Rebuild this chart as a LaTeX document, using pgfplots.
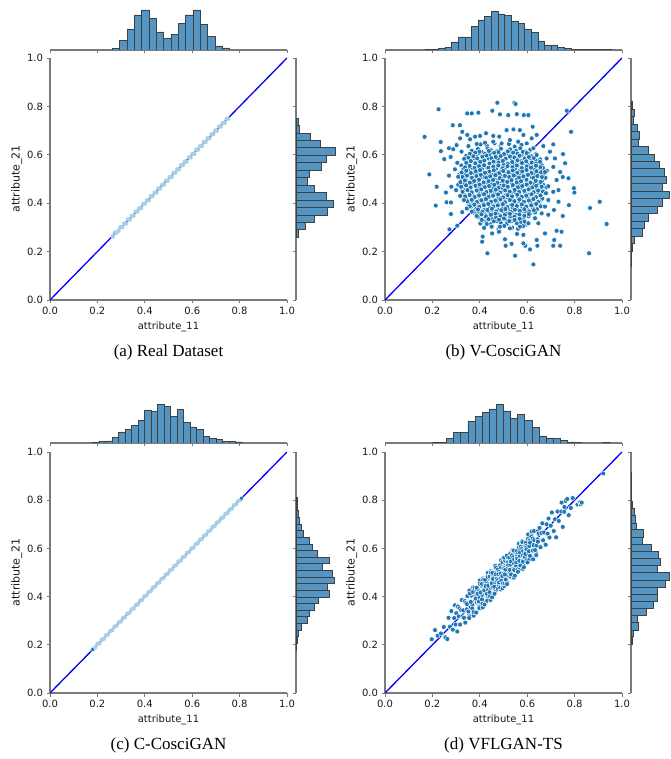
\documentclass[border=0pt]{standalone}
\usepackage{fontspec}
\setmainfont{Liberation Serif}
\newfontfamily\dejavu{DejaVu Sans}
\usepackage{pgfplots}
\pgfplotsset{compat=1.18}
\definecolor{c0}{HTML}{1F77B4}
\definecolor{histfill}{HTML}{5495C4}
\definecolor{halo}{HTML}{A5D0E6}
\definecolor{spine}{HTML}{7A7A7A}

\pgfplotsset{
  mainax/.style={scale only axis, width=237pt, height=242pt,
    xmin=0, xmax=1, ymin=0, ymax=1,
    axis x line*=bottom, axis y line*=left,
    axis line style={-, spine, line width=1.1pt},
    tick align=outside, major tick length=3.5pt,
    tick style={spine, line width=0.8pt},
    xtick={0,0.2,0.4,0.6,0.8,1}, ytick={0,0.2,0.4,0.6,0.8,1},
    xticklabels={0.0,0.2,0.4,0.6,0.8,1.0},
    yticklabels={0.0,0.2,0.4,0.6,0.8,1.0},
    ticklabel style={font=\dejavu\fontsize{10}{11}\selectfont, text=black!90},
    xlabel style={font=\dejavu\fontsize{10}{11}\selectfont, text=black!90},
    ylabel style={font=\dejavu\fontsize{11}{13}\selectfont, text=black!90, yshift=-2pt},
    xlabel={attribute\_11}, ylabel={attribute\_21},
  },
  tophist/.style={scale only axis, width=237pt, height=42pt,
    xmin=0, xmax=1, ymin=0, ymax=126,
    axis x line*=bottom, hide y axis,
    axis line style={-, spine, line width=1.1pt},
    tick align=outside, major tick length=3.5pt,
    tick style={spine, line width=0.8pt},
    xtick={0,0.2,0.4,0.6,0.8,1}, xticklabels={},
  },
  righthist/.style={scale only axis, width=42pt, height=242pt,
    ymin=0, ymax=1, xmin=0, xmax=126,
    axis y line*=left, hide x axis,
    axis line style={-, spine, line width=1.1pt},
    tick align=outside, major tick length=3.5pt,
    tick style={spine, line width=0.8pt},
    ytick={0,0.2,0.4,0.6,0.8,1}, yticklabels={},
  },
  dots/.style={only marks, mark=*, mark size=2.5pt,
    mark options={fill=c0, draw=white, line width=0.5pt}},
  halodots/.style={only marks, mark=*, mark size=2pt, color=halo,
    mark options={fill=halo, draw=halo, line width=0.2pt}},
  diag/.style={blue, line width=1.3pt},
  bars/.style={fill=histfill, draw=black!75, line width=0.7pt},
}

\begin{document}
\begin{tikzpicture}
\path[use as bounding box] (0,0) rectangle (670pt,759pt);

% ---------------- (a) Real Dataset ----------------
\begin{axis}[mainax, at={(50pt,459pt)}, anchor=south west]
\addplot[halodots] coordinates {
(0.265,0.262) (0.273,0.278) (0.281,0.278) (0.289,0.286) (0.297,0.301) (0.305,0.301)
(0.313,0.316) (0.321,0.316) (0.329,0.333) (0.337,0.333) (0.345,0.348) (0.353,0.348)
(0.361,0.365) (0.369,0.366) (0.377,0.380) (0.385,0.380) (0.393,0.397) (0.401,0.398)
(0.409,0.412) (0.417,0.412) (0.425,0.429) (0.433,0.429) (0.441,0.444) (0.449,0.444)
(0.457,0.461) (0.465,0.461) (0.473,0.476) (0.481,0.476) (0.489,0.493) (0.497,0.493)
(0.505,0.508) (0.513,0.508) (0.521,0.525) (0.529,0.525) (0.537,0.540) (0.545,0.540)
(0.553,0.557) (0.561,0.557) (0.569,0.572) (0.577,0.572) (0.585,0.589) (0.593,0.589)
(0.601,0.604) (0.609,0.604) (0.617,0.621) (0.625,0.621) (0.633,0.636) (0.641,0.636)
(0.649,0.653) (0.657,0.653) (0.665,0.668) (0.673,0.668) (0.681,0.685) (0.689,0.685)
(0.697,0.700) (0.705,0.700) (0.713,0.717) (0.721,0.717) (0.729,0.732) (0.737,0.732)
(0.745,0.749) (0.752,0.749)
};
\addplot[diag] coordinates {(0,0) (1,1)};
\end{axis}
\begin{axis}[tophist, at={(50pt,709pt)}, anchor=south west]
\addplot[ybar interval, bars] coordinates {
(0.263,5) (0.294,28) (0.325,62) (0.356,105) (0.387,120) (0.418,95) (0.448,54) (0.479,35)
(0.510,47) (0.541,80) (0.572,105) (0.603,120) (0.634,77) (0.665,40) (0.696,12) (0.727,6)
(0.758,0)
};
\end{axis}
\begin{axis}[righthist, at={(296pt,459pt)}, anchor=south west]
\addplot[xbar interval, bars] coordinates {
(6,0.259) (28,0.290) (55,0.321) (93,0.351) (111,0.382) (90,0.413) (55,0.444) (35,0.475)
(40,0.505) (75,0.536) (91,0.567) (118,0.598) (73,0.629) (43,0.659) (11,0.690) (6,0.721)
(0,0.752)
};
\end{axis}
\node[font=\fontsize{17}{20}\selectfont] at (168.5pt,407pt) {(a) Real Dataset};

% ---------------- (b) V-CosciGAN ----------------
\begin{axis}[mainax, at={(385pt,459pt)}, anchor=south west]
\addplot[dots] coordinates {
(0.403,0.643) (0.431,0.636) (0.462,0.647) (0.488,0.639) (0.523,0.645) (0.547,0.634) (0.576,0.641)
(0.366,0.617) (0.392,0.624) (0.408,0.612) (0.433,0.626) (0.447,0.619) (0.472,0.614) (0.489,0.625)
(0.514,0.611) (0.528,0.622) (0.553,0.616) (0.571,0.627) (0.594,0.613) (0.613,0.621)
(0.343,0.596) (0.358,0.604) (0.384,0.598) (0.397,0.607) (0.423,0.593) (0.441,0.602) (0.456,0.609)
(0.479,0.595) (0.503,0.603) (0.517,0.597) (0.538,0.606) (0.562,0.592) (0.577,0.601) (0.602,0.608)
(0.618,0.594) (0.637,0.603)
(0.334,0.583) (0.357,0.576) (0.372,0.586) (0.396,0.579) (0.414,0.574) (0.437,0.585) (0.452,0.578)
(0.476,0.583) (0.494,0.575) (0.513,0.587) (0.536,0.579) (0.553,0.584) (0.574,0.573) (0.597,0.582)
(0.612,0.586) (0.636,0.577) (0.655,0.581)
(0.322,0.556) (0.343,0.563) (0.361,0.554) (0.384,0.561) (0.402,0.567) (0.418,0.553) (0.443,0.559)
(0.458,0.565) (0.484,0.552) (0.501,0.562) (0.522,0.557) (0.543,0.566) (0.559,0.554) (0.582,0.563)
(0.603,0.558) (0.621,0.552) (0.644,0.564) (0.661,0.557)
(0.331,0.543) (0.352,0.536) (0.368,0.546) (0.393,0.534) (0.409,0.541) (0.432,0.547) (0.447,0.535)
(0.469,0.544) (0.492,0.538) (0.508,0.546) (0.533,0.533) (0.548,0.542) (0.571,0.537) (0.588,0.547)
(0.611,0.535) (0.627,0.544) (0.652,0.539) (0.667,0.545) (0.683,0.534)
(0.312,0.517) (0.336,0.524) (0.348,0.513) (0.374,0.526) (0.388,0.519) (0.413,0.514) (0.428,0.525)
(0.452,0.518) (0.467,0.523) (0.489,0.512) (0.513,0.521) (0.529,0.527) (0.552,0.516) (0.566,0.522)
(0.593,0.514) (0.607,0.526) (0.632,0.519) (0.648,0.524) (0.671,0.515)
(0.323,0.503) (0.341,0.496) (0.364,0.507) (0.378,0.494) (0.403,0.501) (0.419,0.508) (0.437,0.493)
(0.461,0.505) (0.478,0.497) (0.497,0.503) (0.521,0.492) (0.538,0.506) (0.557,0.498) (0.582,0.504)
(0.598,0.495) (0.619,0.507) (0.636,0.499) (0.663,0.494) (0.677,0.505)
(0.309,0.476) (0.332,0.484) (0.352,0.473) (0.369,0.486) (0.392,0.479) (0.408,0.474) (0.433,0.485)
(0.449,0.477) (0.471,0.483) (0.488,0.472) (0.509,0.481) (0.532,0.487) (0.547,0.476) (0.573,0.482)
(0.586,0.474) (0.612,0.486) (0.628,0.479) (0.651,0.484) (0.668,0.475)
(0.324,0.463) (0.342,0.456) (0.363,0.467) (0.386,0.454) (0.398,0.461) (0.423,0.468) (0.442,0.453)
(0.457,0.465) (0.482,0.457) (0.497,0.463) (0.519,0.452) (0.541,0.466) (0.558,0.458) (0.577,0.464)
(0.603,0.455) (0.617,0.467) (0.642,0.459) (0.659,0.454) (0.681,0.465)
(0.333,0.436) (0.356,0.444) (0.371,0.433) (0.394,0.446) (0.413,0.439) (0.429,0.434) (0.452,0.445)
(0.468,0.437) (0.491,0.443) (0.508,0.432) (0.531,0.441) (0.549,0.447) (0.568,0.436) (0.592,0.442)
(0.607,0.434) (0.629,0.446) (0.648,0.439) (0.672,0.444)
(0.342,0.423) (0.367,0.416) (0.383,0.427) (0.402,0.414) (0.424,0.421) (0.441,0.428) (0.463,0.413)
(0.479,0.425) (0.502,0.417) (0.518,0.423) (0.539,0.412) (0.562,0.426) (0.578,0.418) (0.601,0.424)
(0.617,0.415) (0.639,0.427) (0.664,0.419)
(0.353,0.396) (0.372,0.404) (0.396,0.393) (0.412,0.406) (0.433,0.399) (0.452,0.394) (0.471,0.405)
(0.493,0.397) (0.509,0.403) (0.532,0.392) (0.551,0.401) (0.569,0.407) (0.588,0.396) (0.613,0.402)
(0.628,0.394) (0.652,0.406)
(0.362,0.383) (0.384,0.376) (0.403,0.387) (0.421,0.374) (0.443,0.381) (0.462,0.388) (0.481,0.373)
(0.499,0.385) (0.522,0.377) (0.538,0.383) (0.561,0.372) (0.579,0.386) (0.598,0.378) (0.622,0.384)
(0.641,0.375) (0.657,0.387)
(0.381,0.356) (0.398,0.364) (0.422,0.353) (0.437,0.366) (0.458,0.359) (0.476,0.354) (0.497,0.365)
(0.513,0.357) (0.536,0.363) (0.553,0.352) (0.572,0.361) (0.591,0.367) (0.612,0.356) (0.633,0.362)
(0.392,0.343) (0.413,0.336) (0.431,0.347) (0.452,0.334) (0.468,0.341) (0.491,0.348) (0.507,0.333)
(0.528,0.345) (0.549,0.337) (0.567,0.343) (0.584,0.332) (0.606,0.346)
(0.402,0.316) (0.428,0.324) (0.446,0.313) (0.472,0.326) (0.488,0.319) (0.513,0.314) (0.532,0.325)
(0.556,0.317) (0.574,0.323) (0.597,0.312)
(0.418,0.298) (0.452,0.304) (0.479,0.293) (0.503,0.306) (0.537,0.299) (0.561,0.294) (0.583,0.305)
(0.381,0.609) (0.399,0.613) (0.422,0.604) (0.438,0.616) (0.461,0.608) (0.479,0.611) (0.502,0.603)
(0.518,0.614) (0.541,0.609) (0.559,0.605) (0.582,0.612) (0.598,0.607)
(0.352,0.588) (0.373,0.594) (0.389,0.585) (0.411,0.592) (0.428,0.597) (0.449,0.586) (0.467,0.591)
(0.488,0.595) (0.509,0.584) (0.527,0.593) (0.546,0.589) (0.568,0.596) (0.589,0.585) (0.607,0.591)
(0.628,0.587)
(0.343,0.567) (0.362,0.574) (0.381,0.565) (0.402,0.571) (0.419,0.576) (0.441,0.564) (0.458,0.572)
(0.479,0.568) (0.497,0.575) (0.518,0.563) (0.537,0.570) (0.559,0.577) (0.578,0.566) (0.596,0.573)
(0.619,0.568) (0.638,0.564)
(0.338,0.548) (0.357,0.554) (0.378,0.545) (0.397,0.553) (0.418,0.557) (0.436,0.546) (0.457,0.551)
(0.478,0.556) (0.496,0.544) (0.517,0.553) (0.538,0.549) (0.556,0.556) (0.577,0.545) (0.598,0.552)
(0.616,0.547) (0.637,0.555) (0.656,0.549)
(0.323,0.527) (0.343,0.534) (0.362,0.525) (0.383,0.532) (0.401,0.537) (0.422,0.526) (0.441,0.531)
(0.459,0.536) (0.481,0.524) (0.499,0.533) (0.521,0.528) (0.539,0.535) (0.558,0.526) (0.579,0.531)
(0.597,0.537) (0.618,0.525) (0.639,0.532) (0.659,0.528)
(0.327,0.508) (0.346,0.514) (0.367,0.505) (0.386,0.512) (0.404,0.517) (0.427,0.506) (0.444,0.511)
(0.466,0.516) (0.484,0.504) (0.506,0.513) (0.524,0.508) (0.543,0.515) (0.566,0.506) (0.584,0.511)
(0.603,0.517) (0.626,0.505) (0.643,0.512) (0.662,0.508)
(0.318,0.487) (0.337,0.494) (0.358,0.485) (0.376,0.492) (0.397,0.497) (0.416,0.486) (0.437,0.491)
(0.456,0.496) (0.474,0.484) (0.497,0.493) (0.516,0.488) (0.534,0.495) (0.556,0.486) (0.574,0.491)
(0.597,0.497) (0.614,0.485) (0.636,0.492) (0.657,0.488)
(0.321,0.468) (0.342,0.474) (0.361,0.465) (0.382,0.472) (0.399,0.477) (0.421,0.466) (0.439,0.471)
(0.461,0.476) (0.479,0.464) (0.501,0.473) (0.518,0.468) (0.539,0.475) (0.561,0.466) (0.579,0.471)
(0.598,0.477) (0.621,0.465) (0.638,0.472) (0.661,0.468)
(0.327,0.447) (0.348,0.454) (0.366,0.445) (0.387,0.452) (0.406,0.457) (0.428,0.446) (0.446,0.451)
(0.467,0.456) (0.486,0.444) (0.507,0.453) (0.526,0.448) (0.547,0.455) (0.566,0.446) (0.588,0.451)
(0.606,0.457) (0.627,0.445) (0.646,0.452) (0.667,0.448)
(0.338,0.428) (0.357,0.434) (0.378,0.425) (0.397,0.432) (0.418,0.437) (0.437,0.426) (0.456,0.431)
(0.477,0.436) (0.498,0.424) (0.517,0.433) (0.536,0.428) (0.558,0.435) (0.577,0.426) (0.596,0.431)
(0.618,0.437) (0.637,0.425) (0.656,0.432)
(0.347,0.408) (0.366,0.414) (0.388,0.405) (0.407,0.412) (0.426,0.417) (0.447,0.406) (0.466,0.411)
(0.487,0.416) (0.506,0.404) (0.527,0.413) (0.546,0.408) (0.567,0.415) (0.586,0.406) (0.607,0.411)
(0.626,0.417) (0.646,0.405)
(0.358,0.387) (0.377,0.394) (0.398,0.385) (0.417,0.392) (0.436,0.397) (0.457,0.386) (0.476,0.391)
(0.497,0.396) (0.516,0.384) (0.537,0.393) (0.556,0.388) (0.577,0.395) (0.596,0.386) (0.617,0.391)
(0.638,0.397)
(0.371,0.368) (0.392,0.374) (0.411,0.365) (0.432,0.372) (0.451,0.377) (0.469,0.366) (0.491,0.371)
(0.508,0.376) (0.531,0.364) (0.548,0.373) (0.569,0.368) (0.588,0.375) (0.609,0.366) (0.628,0.371)
(0.386,0.347) (0.407,0.354) (0.426,0.345) (0.447,0.352) (0.466,0.357) (0.487,0.346) (0.506,0.351)
(0.527,0.356) (0.546,0.344) (0.567,0.353) (0.588,0.348) (0.607,0.355)
(0.412,0.328) (0.437,0.334) (0.459,0.325) (0.481,0.332) (0.502,0.337) (0.524,0.326) (0.547,0.331)
(0.568,0.336) (0.589,0.324)
(0.167,0.674) (0.226,0.788) (0.187,0.519) (0.214,0.390) (0.235,0.653) (0.236,0.615) (0.250,0.582)
(0.270,0.627) (0.277,0.591) (0.286,0.722) (0.270,0.514) (0.218,0.468) (0.280,0.468) (0.260,0.404)
(0.278,0.355) (0.272,0.292) (0.326,0.363) (0.305,0.307) (0.316,0.722) (0.326,0.695) (0.347,0.771)
(0.366,0.771) (0.394,0.774) (0.453,0.782) (0.474,0.815) (0.546,0.815) (0.551,0.810) (0.485,0.767)
(0.520,0.764) (0.556,0.768) (0.586,0.764) (0.605,0.764) (0.767,0.782) (0.785,0.695) (0.623,0.716)
(0.710,0.643) (0.717,0.585) (0.751,0.603) (0.760,0.565) (0.774,0.503) (0.797,0.462) (0.799,0.444)
(0.776,0.392) (0.865,0.380) (0.906,0.406) (0.935,0.314) (0.861,0.193) (0.750,0.347) (0.745,0.282)
(0.724,0.286) (0.714,0.248) (0.739,0.224) (0.710,0.224) (0.675,0.275) (0.640,0.248) (0.643,0.224)
(0.612,0.209) (0.592,0.224) (0.549,0.183) (0.626,0.147) (0.509,0.224) (0.432,0.193) (0.412,0.262)
(0.410,0.241) (0.452,0.275) (0.506,0.251) (0.534,0.232) (0.584,0.234) (0.481,0.282) (0.557,0.273)
(0.584,0.269) (0.647,0.317) (0.689,0.352) (0.713,0.372) (0.732,0.406) (0.710,0.447) (0.732,0.454)
(0.724,0.496) (0.750,0.508) (0.739,0.529) (0.710,0.550) (0.696,0.613) (0.668,0.636) (0.640,0.682)
(0.619,0.668) (0.584,0.682) (0.569,0.702) (0.542,0.705) (0.513,0.702) (0.482,0.675) (0.457,0.678)
(0.426,0.689) (0.401,0.678) (0.380,0.675) (0.359,0.664) (0.347,0.682) (0.317,0.668) (0.302,0.640)
(0.288,0.623) (0.323,0.613) (0.305,0.567) (0.295,0.540) (0.309,0.509) (0.300,0.454) (0.317,0.430)
(0.333,0.413) (0.345,0.378) (0.366,0.365) (0.387,0.347) (0.408,0.331) (0.429,0.314) (0.450,0.303)
(0.485,0.303) (0.527,0.296) (0.569,0.303) (0.605,0.317) (0.633,0.338) (0.661,0.358) (0.675,0.386)
(0.689,0.413) (0.679,0.441) (0.689,0.470) (0.675,0.529) (0.654,0.571) (0.640,0.599) (0.682,0.585)
(0.626,0.627) (0.598,0.647) (0.562,0.654) (0.527,0.661) (0.492,0.647) (0.457,0.654) (0.422,0.650)
(0.387,0.645) (0.352,0.636) (0.278,0.403) (0.257,0.444)
};
\addplot[diag] coordinates {(0,0) (1,1)};
\end{axis}
\begin{axis}[tophist, at={(385pt,709pt)}, anchor=south west]
\addplot[ybar interval, bars] coordinates {
(0.169,2) (0.197,2) (0.225,6) (0.253,8) (0.281,24) (0.309,39) (0.337,39) (0.365,70)
(0.393,90) (0.421,101) (0.449,117) (0.477,108) (0.505,103) (0.533,87) (0.561,79) (0.589,63)
(0.617,52) (0.645,27) (0.673,15) (0.701,15) (0.729,7) (0.757,5) (0.785,2) (0.813,1)
(0.841,2) (0.869,1) (0.897,1) (0.925,1) (0.953,0)
};
\end{axis}
\begin{axis}[righthist, at={(631pt,459pt)}, anchor=south west]
\addplot[xbar interval, bars] coordinates {
(1,0.141) (2,0.172) (5,0.203) (9,0.234) (34,0.264) (40,0.295) (51,0.326) (79,0.357) (93,0.388)
(115,0.418) (94,0.449) (105,0.480) (99,0.511) (85,0.542) (70,0.572) (52,0.603) (22,0.634)
(24,0.665) (18,0.696) (8,0.726) (10,0.757) (4,0.788) (0,0.819)
};
\end{axis}
\node[font=\fontsize{17}{20}\selectfont] at (503.5pt,407pt) {(b) V-CosciGAN};

% ---------------- (c) C-CosciGAN ----------------
\begin{axis}[mainax, height=241pt, at={(50pt,66pt)}, anchor=south west]
\addplot[halodots] coordinates {
(0.182,0.184) (0.191,0.189) (0.200,0.203) (0.209,0.207) (0.218,0.221) (0.227,0.225)
(0.236,0.239) (0.245,0.243) (0.254,0.257) (0.263,0.261) (0.272,0.275) (0.281,0.279)
(0.290,0.293) (0.299,0.297) (0.308,0.311) (0.317,0.315) (0.326,0.329) (0.335,0.333)
(0.344,0.347) (0.353,0.351) (0.362,0.365) (0.371,0.369) (0.380,0.383) (0.389,0.387)
(0.398,0.401) (0.407,0.405) (0.416,0.419) (0.425,0.423) (0.434,0.437) (0.443,0.441)
(0.452,0.455) (0.461,0.459) (0.470,0.473) (0.479,0.477) (0.488,0.491) (0.497,0.495)
(0.506,0.509) (0.515,0.513) (0.524,0.527) (0.533,0.531) (0.542,0.545) (0.551,0.549)
(0.560,0.563) (0.569,0.567) (0.578,0.581) (0.587,0.585) (0.596,0.599) (0.605,0.603)
(0.614,0.617) (0.623,0.621) (0.632,0.635) (0.641,0.639) (0.650,0.653) (0.659,0.657)
(0.668,0.671) (0.677,0.675) (0.686,0.689) (0.695,0.693) (0.704,0.707) (0.713,0.711)
(0.722,0.725) (0.731,0.729) (0.740,0.743) (0.749,0.747) (0.758,0.761) (0.767,0.765)
(0.776,0.779) (0.785,0.783) (0.794,0.797) (0.803,0.801)
};
\addplot[only marks, mark=*, mark size=2pt, mark options={fill=c0, draw=white, line width=0.3pt}]
  coordinates {(0.180,0.180) (0.808,0.808)};
\addplot[diag] coordinates {(0,0) (1,1)};
\end{axis}
\begin{axis}[tophist, at={(50pt,316pt)}, anchor=south west]
\addplot[ybar interval, bars] coordinates {
(0.180,2) (0.207,4) (0.235,6) (0.262,16) (0.290,33) (0.317,40) (0.344,53) (0.372,67)
(0.399,99) (0.427,95) (0.454,116) (0.481,110) (0.509,80) (0.536,101) (0.564,62) (0.591,48)
(0.618,41) (0.646,20) (0.673,14) (0.701,10) (0.728,5) (0.755,5) (0.783,3) (0.810,0)
};
\end{axis}
\begin{axis}[righthist, height=241pt, at={(296pt,66pt)}, anchor=south west]
\addplot[xbar interval, bars] coordinates {
(2,0.178) (4,0.206) (6,0.233) (16,0.261) (33,0.288) (41,0.316) (54,0.343) (66,0.371)
(99,0.398) (93,0.426) (115,0.453) (108,0.481) (79,0.508) (101,0.536) (63,0.563) (49,0.591)
(41,0.618) (21,0.646) (16,0.673) (11,0.701) (6,0.728) (5,0.756) (3,0.783) (0,0.811)
};
\end{axis}
\node[font=\fontsize{17}{20}\selectfont] at (168.5pt,14pt) {(c) C-CosciGAN};

% ---------------- (d) VFLGAN-TS ----------------
\begin{axis}[mainax, height=241pt, at={(385pt,66pt)}, anchor=south west]
\addplot[dots] coordinates {
(0.197,0.223) (0.211,0.261) (0.222,0.238)
(0.236,0.247) (0.248,0.274) (0.255,0.231)
(0.263,0.224) (0.268,0.312) (0.274,0.275) (0.280,0.340) (0.286,0.263)
(0.292,0.311) (0.295,0.364) (0.298,0.284) (0.301,0.331) (0.305,0.255) (0.308,0.359)
(0.311,0.318) (0.314,0.351) (0.317,0.284)
(0.321,0.344) (0.324,0.386) (0.327,0.319) (0.330,0.343) (0.333,0.312) (0.336,0.382)
(0.339,0.292) (0.342,0.374) (0.345,0.347) (0.348,0.402)
(0.355,0.323) (0.346,0.369) (0.356,0.425) (0.352,0.338) (0.364,0.378) (0.358,0.318)
(0.355,0.311) (0.365,0.404) (0.369,0.365) (0.358,0.413) (0.371,0.343) (0.362,0.378)
(0.372,0.438) (0.368,0.351) (0.380,0.407) (0.374,0.321) (0.371,0.419) (0.381,0.385)
(0.385,0.419)
(0.374,0.336) (0.386,0.405) (0.378,0.436) (0.387,0.375) (0.383,0.392) (0.395,0.370)
(0.388,0.430) (0.385,0.334) (0.395,0.423) (0.399,0.397) (0.387,0.437) (0.399,0.365)
(0.391,0.412) (0.400,0.467) (0.396,0.380) (0.408,0.420) (0.401,0.359) (0.398,0.352)
(0.408,0.445) (0.412,0.406) (0.400,0.453) (0.412,0.382) (0.403,0.417)
(0.413,0.475) (0.409,0.388) (0.419,0.442) (0.412,0.355) (0.409,0.453) (0.419,0.419)
(0.423,0.453) (0.411,0.371) (0.423,0.440) (0.414,0.470) (0.423,0.409) (0.419,0.426)
(0.430,0.403) (0.423,0.463) (0.420,0.367) (0.430,0.456) (0.434,0.430) (0.422,0.470)
(0.434,0.398) (0.425,0.444) (0.434,0.499) (0.430,0.412) (0.441,0.451) (0.434,0.390)
(0.431,0.383) (0.441,0.476) (0.445,0.437)
(0.433,0.482) (0.445,0.411) (0.436,0.446) (0.445,0.505) (0.441,0.418) (0.452,0.473)
(0.445,0.386) (0.442,0.484) (0.451,0.449) (0.455,0.483) (0.443,0.401) (0.455,0.470)
(0.446,0.500) (0.455,0.439) (0.451,0.456) (0.462,0.433) (0.455,0.493) (0.452,0.397)
(0.461,0.485) (0.465,0.459) (0.453,0.499) (0.465,0.427) (0.456,0.473) (0.465,0.528)
(0.461,0.441) (0.472,0.480) (0.465,0.419) (0.462,0.412) (0.471,0.504) (0.475,0.465)
(0.477,0.517) (0.470,0.466) (0.467,0.493) (0.476,0.432) (0.480,0.493) (0.468,0.520)
(0.480,0.462) (0.471,0.474) (0.480,0.449) (0.476,0.512) (0.487,0.430) (0.480,0.502)
(0.477,0.469) (0.486,0.530) (0.490,0.450) (0.478,0.493) (0.490,0.551) (0.481,0.459)
(0.490,0.496) (0.486,0.438) (0.497,0.445) (0.490,0.521) (0.487,0.475) (0.496,0.543)
(0.500,0.464) (0.488,0.496) (0.500,0.558) (0.491,0.466) (0.500,0.519) (0.496,0.435)
(0.507,0.547) (0.500,0.496)
(0.503,0.444) (0.507,0.527) (0.495,0.485) (0.507,0.549) (0.498,0.456) (0.507,0.520)
(0.503,0.562) (0.514,0.490) (0.508,0.512) (0.505,0.455) (0.514,0.460) (0.518,0.547)
(0.506,0.492) (0.518,0.563) (0.509,0.471) (0.518,0.524) (0.514,0.570) (0.525,0.498)
(0.518,0.535) (0.515,0.452) (0.524,0.562) (0.528,0.522) (0.517,0.541) (0.529,0.483)
(0.520,0.531) (0.529,0.579) (0.525,0.505) (0.536,0.537)
(0.527,0.511) (0.538,0.581) (0.532,0.492) (0.529,0.533) (0.538,0.592) (0.543,0.514)
(0.531,0.546) (0.544,0.479) (0.535,0.571) (0.544,0.536) (0.541,0.563) (0.552,0.504)
(0.545,0.554) (0.543,0.591) (0.552,0.530) (0.556,0.555) (0.545,0.510) (0.557,0.589)
(0.548,0.487) (0.558,0.576) (0.554,0.542) (0.565,0.605)
(0.559,0.513) (0.556,0.565) (0.565,0.620) (0.570,0.542) (0.558,0.558) (0.570,0.516)
(0.561,0.503) (0.570,0.595) (0.567,0.549) (0.578,0.619) (0.571,0.529) (0.568,0.570)
(0.577,0.629) (0.582,0.551) (0.570,0.583) (0.582,0.515) (0.573,0.607) (0.582,0.572)
(0.579,0.599) (0.590,0.540) (0.583,0.590) (0.580,0.626) (0.589,0.565) (0.594,0.591)
(0.582,0.545)
(0.594,0.623) (0.586,0.522) (0.595,0.610) (0.592,0.577) (0.603,0.640) (0.597,0.550)
(0.594,0.602) (0.604,0.658) (0.608,0.579) (0.597,0.596) (0.609,0.554) (0.601,0.542)
(0.610,0.634) (0.607,0.588) (0.618,0.658) (0.612,0.569) (0.609,0.610) (0.619,0.670)
(0.623,0.591) (0.612,0.624)
(0.625,0.555) (0.617,0.648) (0.627,0.614) (0.624,0.641) (0.636,0.583) (0.630,0.634)
(0.629,0.672) (0.639,0.612) (0.644,0.638) (0.633,0.593) (0.646,0.673) (0.638,0.572)
(0.648,0.661) (0.645,0.628)
(0.652,0.685) (0.656,0.605) (0.660,0.664) (0.664,0.704) (0.667,0.634) (0.671,0.666)
(0.675,0.616) (0.678,0.615)
(0.682,0.700) (0.686,0.661) (0.690,0.724) (0.694,0.645) (0.699,0.694) (0.704,0.749)
(0.712,0.672) (0.717,0.721) (0.722,0.646) (0.728,0.753) (0.733,0.714)
(0.744,0.753) (0.750,0.689) (0.756,0.752) (0.762,0.797) (0.745,0.790) (0.769,0.805)
(0.757,0.772) (0.775,0.738) (0.784,0.768) (0.792,0.809)
(0.812,0.782) (0.822,0.791) (0.826,0.784) (0.830,0.790)
(0.921,0.911)
};
\addplot[diag] coordinates {(0,0) (1,1)};
\end{axis}
\begin{axis}[tophist, at={(385pt,316pt)}, anchor=south west]
\addplot[ybar interval, bars] coordinates {
(0.200,2) (0.230,2) (0.260,13) (0.290,31) (0.320,31) (0.350,65) (0.380,79) (0.410,91)
(0.440,102) (0.470,115) (0.500,96) (0.530,73) (0.560,85) (0.590,67) (0.620,46) (0.650,21)
(0.680,15) (0.710,14) (0.740,7) (0.770,3) (0.800,1) (0.830,0) (0.860,0) (0.890,0)
(0.920,1) (0.950,0)
};
\end{axis}
\begin{axis}[righthist, height=241pt, at={(631pt,66pt)}, anchor=south west]
\addplot[xbar interval, bars] coordinates {
(4,0.203) (8,0.233) (23,0.262) (19,0.292) (45,0.321) (67,0.351) (78,0.381) (80,0.410)
(102,0.440) (115,0.469) (80,0.499) (87,0.529) (82,0.558) (60,0.588) (34,0.617) (36,0.647)
(16,0.677) (12,0.706) (9,0.736) (5,0.765) (2,0.795) (0,0.825) (0,0.854) (1,0.884) (0,0.914)
};
\end{axis}
\node[font=\fontsize{17}{20}\selectfont] at (503.5pt,14pt) {(d) VFLGAN-TS};
\end{tikzpicture}
\end{document}
